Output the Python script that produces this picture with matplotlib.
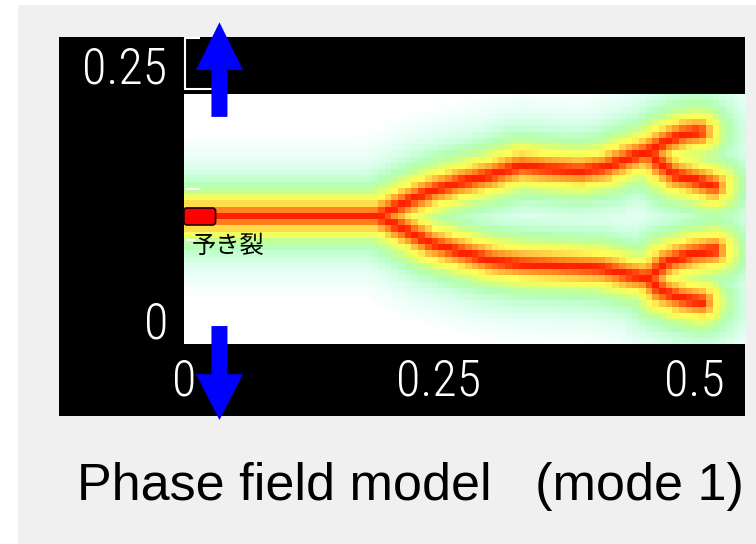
import os
import numpy as np
import matplotlib
matplotlib.use("Agg")
import matplotlib.pyplot as plt
from matplotlib import font_manager as fm
from matplotlib.colors import LinearSegmentedColormap
from matplotlib.patches import FancyArrow, FancyBboxPatch, Rectangle

# ---- crack geometry (model units) ----
trunk_x = [0.000, 0.190]
trunk_y = [0.128, 0.128]
upper_x = [0.190, 0.217, 0.241, 0.271, 0.300, 0.329, 0.359, 0.388, 0.413, 0.432, 0.455]
upper_y = [0.128, 0.142, 0.153, 0.162, 0.169, 0.178, 0.175, 0.173, 0.177, 0.185, 0.193]
upper_a_x = [0.455, 0.472, 0.489, 0.504]
upper_a_y = [0.193, 0.203, 0.210, 0.212]
upper_b_x = [0.455, 0.467, 0.481, 0.501, 0.518]
upper_b_y = [0.193, 0.179, 0.169, 0.164, 0.158]
lower_x = [0.190, 0.217, 0.241, 0.271, 0.300, 0.329, 0.369, 0.408, 0.437, 0.455]
lower_y = [0.128, 0.114, 0.101, 0.092, 0.084, 0.080, 0.078, 0.076, 0.069, 0.066]
lower_a_x = [0.455, 0.472, 0.496, 0.519]
lower_a_y = [0.066, 0.082, 0.090, 0.094]
lower_b_x = [0.455, 0.467, 0.486, 0.506]
lower_b_y = [0.066, 0.053, 0.046, 0.042]

length_scale = 0.030          # regularisation length of the phase field
domain_w, domain_h = 0.55, 0.25
n_cols, n_rows = 84, 40
precrack_len = 0.031

x_tick_vals = [0.0, 0.25, 0.5]
x_tick_labels = ["0", "0.25", "0.5"]
y_tick_labels = ["0", "0.25"]
title = "Phase field model   (mode 1)"
precrack_label = "予き裂"


def find_font(patterns):
    files = {os.path.basename(f.fname).lower().replace("-", "").replace("_", ""): f.fname
             for f in fm.fontManager.ttflist}
    for p in patterns:
        key = p.lower().replace("-", "").replace("_", "")
        for name, path in files.items():
            if name.startswith(key):
                return path
    return None


def font_props(patterns, fallback, size, weight="normal"):
    path = find_font(patterns)
    if path:
        return fm.FontProperties(fname=path, size=size)
    return fm.FontProperties(family=fallback, size=size, weight=weight)


tick_font = font_props(["RobotoCondensedLight", "NotoSansCondensedLight",
                        "NotoSansExtraCondensedLight", "DejaVuSansCondensed.ttf",
                        "RobotoLight", "LatoLight"], ["Roboto", "DejaVu Sans"], 36, "light")
title_font = fm.FontProperties(family=["Liberation Sans", "DejaVu Sans"], size=37.5)


def polyline_distance(px, py, xs, ys):
    d = np.full(px.shape, np.inf)
    for x0, y0, x1, y1 in zip(xs[:-1], ys[:-1], xs[1:], ys[1:]):
        dx, dy = x1 - x0, y1 - y0
        t = np.clip(((px - x0) * dx + (py - y0) * dy) / (dx * dx + dy * dy), 0, 1)
        d = np.minimum(d, np.hypot(px - x0 - t * dx, py - y0 - t * dy))
    return d


# phase field on the element grid: exponential profile around the crack set
xc = (np.arange(n_cols) + 0.5) * domain_w / n_cols
yc = (np.arange(n_rows) + 0.5) * domain_h / n_rows
X, Y = np.meshgrid(xc, yc)
paths = [(trunk_x, trunk_y), (upper_x, upper_y), (upper_a_x, upper_a_y),
         (upper_b_x, upper_b_y), (lower_x, lower_y), (lower_a_x, lower_a_y),
         (lower_b_x, lower_b_y)]
dist = np.min([polyline_distance(X, Y, np.array(a), np.array(b)) for a, b in paths], axis=0)
phase = np.exp(-dist / length_scale)

cmap = LinearSegmentedColormap.from_list("crack", [
    (0.00, "#ffffff"), (0.06, "#ffffff"), (0.10, "#f4fffc"), (0.18, "#e0fff0"),
    (0.27, "#c8ffd8"), (0.36, "#b4ffb4"), (0.45, "#c8ff90"), (0.53, "#f0ff60"),
    (0.61, "#ffff58"), (0.70, "#ffc040"), (0.80, "#ff8a20"), (0.88, "#ff4a10"),
    (0.95, "#ff2400"), (1.00, "#ff2000")])

W, H = 756, 544
fig = plt.figure(figsize=(W / 100, H / 100), dpi=100, facecolor="white")
fig.add_artist(Rectangle((18 / W, 0), 1 - 18 / W, 1 - 5 / H, transform=fig.transFigure,
                         facecolor="#f0f0f0", edgecolor="none", zorder=-10))

ax = fig.add_axes([59 / W, (H - 415.5) / H, 686 / W, 378.5 / H])
ax.set_facecolor("black")
for s in ax.spines.values():
    s.set_visible(False)
ax.set_xticks([])
ax.set_yticks([])
ax.set_xlim(-0.1225, 0.55)
ax.set_ylim(-0.0718, 0.3082)

ax.imshow(phase, origin="lower", extent=[0, domain_w, 0, domain_h], cmap=cmap,
          vmin=0, vmax=1, interpolation="nearest", aspect="auto", zorder=1)

# frame bracket and small ticks along the left edge
ax.plot([0.0015, 0.0015], [0.2545, 0.308], color="white", lw=1.5, zorder=3,
        solid_capstyle="butt")
for ty, tl in [(0.307, 0.0157), (0.2555, 0.028), (0.156, 0.016), (0.104, 0.011)]:
    ax.plot([0.002, tl], [ty, ty], color="white", lw=1.5, zorder=3, solid_capstyle="butt")

# tick labels
for v, lab in zip(x_tick_vals, x_tick_labels):
    ax.text(v, -0.038, lab, color="white", ha="center", va="center",
            fontproperties=tick_font, zorder=4)
ax.text(-0.0275, 0.0196, y_tick_labels[0], color="white", ha="center", va="center",
        fontproperties=tick_font, zorder=4)
ax.text(-0.0578, 0.275, y_tick_labels[1], color="white", ha="center", va="center",
        fontproperties=tick_font, zorder=4)

# pre-crack marker
ax.add_patch(FancyBboxPatch((0.0, trunk_y[0] - 0.0085), precrack_len, 0.017,
                            boxstyle="round,pad=0,rounding_size=0.003",
                            facecolor="#ff0000", edgecolor="#200000", lw=1.2, zorder=5))
ax.text(0.008, 0.098, precrack_label, color="black", ha="left", va="center",
        fontsize=17.5, family=["Noto Sans CJK JP", "DejaVu Sans"], zorder=5)

# loading arrows (mode I opening)
arrow_x = 0.0348
ax.add_patch(FancyArrow(arrow_x, 0.228, 0, 0.323 - 0.228, width=0.0157, head_width=0.046,
                        head_length=0.048, length_includes_head=True, color="#0000ff",
                        lw=0, zorder=6, clip_on=False))
ax.add_patch(FancyArrow(arrow_x, 0.018, 0, -0.0763 - 0.018, width=0.0157, head_width=0.046,
                        head_length=0.046, length_includes_head=True, color="#0000ff",
                        lw=0, zorder=6, clip_on=False))

fig.text(410 / W, (H - 500) / H, title, ha="center", va="baseline", color="black",
         fontproperties=title_font)

fig.savefig("out.png", dpi=100, facecolor=fig.get_facecolor())
